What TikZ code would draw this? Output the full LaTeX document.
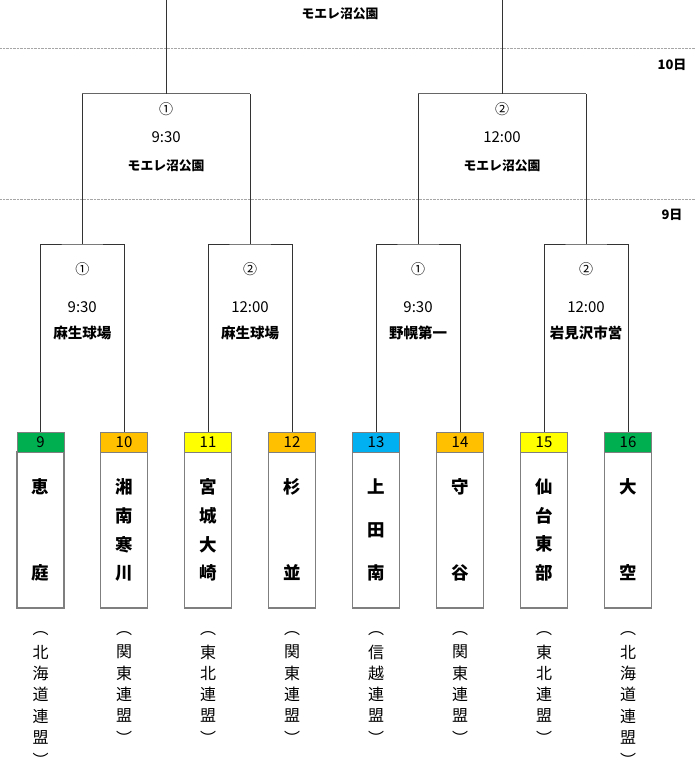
\documentclass[tikz,border=0pt]{standalone}
\usepackage{fontspec}
\setmainfont{Noto Sans CJK JP}
\definecolor{cgreen}{HTML}{00B050}
\definecolor{corange}{HTML}{FFC000}
\definecolor{cyellow}{HTML}{FFFF00}
\definecolor{ccyan}{HTML}{00B0F0}
\definecolor{lineg}{HTML}{333333}
\definecolor{boxg}{HTML}{7F7F7F}
\tikzset{
  br/.style={draw=lineg, line width=0.8pt},
  brtop/.style={draw=boxg!80!black, line width=1.6pt},
  dotline/.style={draw=gray!70, line width=0.7pt, dash pattern=on 0.7pt off 0.7pt},
  hdr/.style={draw=boxg, line width=1pt, minimum width=47pt, minimum height=20pt, inner sep=0pt, font=\fontsize{15}{15}\selectfont},
  body/.style={draw=boxg, line width=1.1pt, minimum width=47pt, minimum height=156pt, inner sep=0pt},
  tname/.style={inner sep=0pt, font=\fontsize{17.5}{17.5}\selectfont\bfseries},
  reg/.style={inner sep=0pt, font=\fontsize{16}{16}\selectfont},
  circ/.style={inner sep=0pt, font=\fontsize{14}{14}\selectfont},
  time/.style={inner sep=0pt, font=\fontsize{15}{15}\selectfont},
  venue/.style={inner sep=0pt, font=\fontsize{14.5}{14.5}\selectfont\bfseries},
  venuesm/.style={inner sep=0pt, font=\fontsize{12.8}{12.8}\selectfont\bfseries},
  day/.style={inner sep=0pt, font=\fontsize{13}{13}\selectfont\bfseries},
}
\begin{document}
\begin{tikzpicture}[x=1pt,y=-1pt]
\useasboundingbox (0,0) rectangle (695,779);
% dotted day lines
\coordinate (dl1) at (0,48.5); \coordinate (dr1) at (695,48.5);
\coordinate (dl2) at (0,199); \coordinate (dr2) at (695,199);
\draw[dotline] (dl1) -- (dr1);
\draw[dotline] (dl2) -- (dr2);
\node[day] (d10) at (672,65) {10日};
\node[day] (d9) at (672,215) {9日};
\node[venuesm] (final) at (340,14) {モエレ沼公園};
% teams
\foreach \id/\x/\col/\n/\name/\reg/\m in {
  9/40.5/cgreen/2/{恵,庭}/{北,海,道,連,盟}/5,
  10/124/corange/4/{湘,南,寒,川}/{関,東,連,盟}/4,
  11/208/cyellow/4/{宮,城,大,崎}/{東,北,連,盟}/4,
  12/292/corange/2/{杉,並}/{関,東,連,盟}/4,
  13/376/ccyan/3/{上,田,南}/{信,越,連,盟}/4,
  14/460/corange/2/{守,谷}/{関,東,連,盟}/4,
  15/544/cyellow/4/{仙,台,東,部}/{東,北,連,盟}/4,
  16/628/cgreen/2/{大,空}/{北,海,道,連,盟}/5}
{
  \node[body] (b\id) at (\x,530) {};
  \node[hdr, fill=\col] (h\id) at (\x,442) {\id};
  \foreach \c [count=\k from 0] in \name {
    \pgfmathsetmacro\yy{487+\k*86/(\n-1)}
    \node[tname] (c\id-\k) at (\x,\yy) {\c};
  }
  \node[reg] (po\id) at (\x,634) {︵};
  \foreach \c [count=\k from 0] in \reg {
    \node[reg] (r\id-\k) at (\x,{652+\k*21.3}) {\c};
  }
  \node[reg] (pc\id) at (\x,{653+\m*21.3}) {︶};
}
% round 1
\coordinate (m1) at (82.25,244);
\coordinate (m2) at (250,244);
\coordinate (m3) at (418,244);
\coordinate (m4) at (586,244);
\draw[br] (h9.north) |- (m1) -| (h10.north);
\draw[br] (h11.north) |- (m2) -| (h12.north);
\draw[br] (h13.north) |- (m3) -| (h14.north);
\draw[br] (h15.north) |- (m4) -| (h16.north);
% round 2
\coordinate (s1) at (166.1,93.5);
\coordinate (s2) at (502,93.5);
\coordinate (s1l) at (82.25,93.5); \coordinate (s1r) at (250,93.5);
\coordinate (s2l) at (418,93.5); \coordinate (s2r) at (586,93.5);
\draw[br] (m1) -- (s1l); \draw[br] (m2) -- (s1r);
\draw[br] (m3) -- (s2l); \draw[br] (m4) -- (s2r);
\draw[brtop] (s1l) -- (s1r);
\draw[brtop] (s2l) -- (s2r);
% final
\coordinate (f1) at (166.1,0);
\coordinate (f2) at (502,0);
\draw[br] (s1) -- (f1);
\draw[br] (s2) -- (f2);
% labels round 2
\node[circ] (s1a) at (166.1,109) {①};
\node[time] (s1b) at (166.1,137) {9:30};
\node[venuesm] (s1c) at (166.1,166) {モエレ沼公園};
\node[circ] (s2a) at (502,109) {②};
\node[time] (s2b) at (502,137) {12:00};
\node[venuesm] (s2c) at (502,166) {モエレ沼公園};
% labels round 1
\foreach \mm/\cc/\tt/\vv in {m1/①/9:30/麻生球場, m2/②/12:00/麻生球場, m3/①/9:30/野幌第一, m4/②/12:00/岩見沢市営}{
  \path (\mm) ++(0,25) node[circ] (\mm a) {\cc};
  \path (\mm) ++(0,63) node[time] (\mm b) {\tt};
  \path (\mm) ++(0,89) node[venue] (\mm c) {\vv};
}
\end{tikzpicture}
\end{document}
